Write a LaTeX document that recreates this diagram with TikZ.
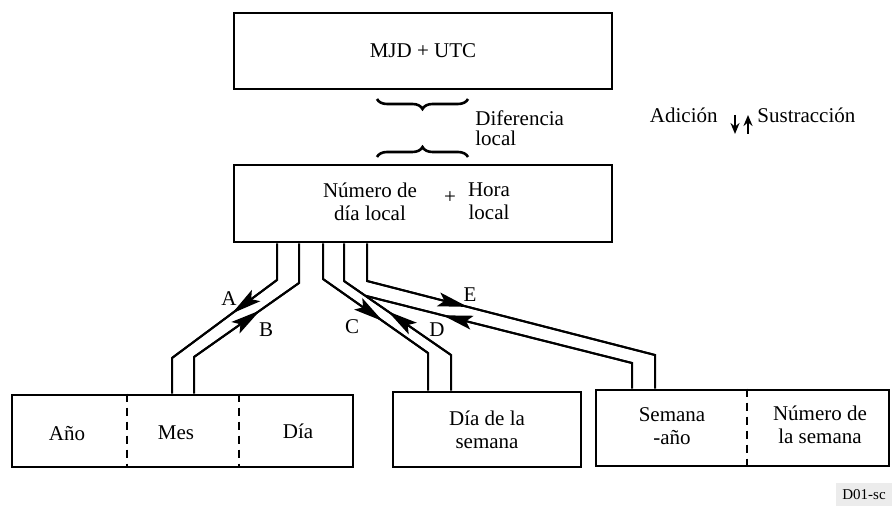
\documentclass[tikz,border=0pt]{standalone}
\usepackage{fontspec}
\setmainfont{Liberation Serif}
\usetikzlibrary{calc, arrows.meta, decorations.markings, decorations.pathreplacing}

\begin{document}
\begin{tikzpicture}[x=0.5pt, y=-0.5pt, >={Stealth[length=15pt, width=7pt, inset=3pt]},
    font=\fontsize{10.5}{11.5}\selectfont,
    box/.style={draw, line width=1.3pt, inner sep=0pt, align=center},
    wire/.style={line width=1pt},
    sep/.style={line width=1.2pt, dash pattern=on 4pt off 3pt},
    brc/.style={line width=1.3pt, decorate, decoration={brace, amplitude=5pt}},
    midarrow/.style={decoration={markings, mark=at position #1 with {\arrow{>}}}, postaction={decorate}}]
  \useasboundingbox (0,0) rectangle (892,506);

  % boxes
  \node[box, minimum width=189pt, minimum height=38pt] (mjd) at (423,51) {MJD + UTC};
  \node[box, minimum width=189pt, minimum height=38.5pt] (local) at (423,203.5) {};
  \node[align=center] (ndl) at (370,201.5) {Número de\\día local};
  \node (plus) at (450,198) {+};
  \node[align=center] (hl) at (489,201.5) {Hora\\local};

  \node[box, minimum width=170.5pt, minimum height=36pt] (fecha) at (182.5,431) {};
  \node[anchor=base] (ano) at (67,441) {Año};
  \node[anchor=base] (mes) at (176,440) {Mes};
  \node[anchor=base] (dia) at (298,439) {Día};
  \draw[sep] (127,0 |- fecha.north) -- (127,0 |- fecha.south);
  \draw[sep] (239,0 |- fecha.north) -- (239,0 |- fecha.south);

  \node[box, minimum width=94pt, minimum height=37.5pt] (dds) at (487,429.5) {Día de la\\semana};
  \node[box, minimum width=146.5pt, minimum height=38pt] (sem) at (742.5,428) {};
  \node[align=center] (sa) at (672,426) {Semana\\-año};
  \node[align=center] (nds) at (820,424.5) {Número de\\la semana};
  \draw[sep] (747,0 |- sem.north) -- (747,0 |- sem.south);

  % local difference
  \coordinate (u1) at (468,99);
  \coordinate (u2) at (377,99);
  \coordinate (v1) at (377,157);
  \coordinate (v2) at (468,157);
  \draw[brc] (u1) -- (u2);
  \draw[brc] (v1) -- (v2);
  \node[anchor=west, align=left, inner sep=0pt, font=\fontsize{10.5}{10}\selectfont] (dif) at (475,128) {Diferencia\\local};

  \node[anchor=base east, inner sep=0pt] (adi) at (718,123) {Adición};
  \node[anchor=base west, inner sep=0pt] (sus) at (757,123) {Sustracción};
  \coordinate (s1) at (735,115);
  \coordinate (s2) at (735,134);
  \coordinate (t1) at (748,134);
  \coordinate (t2) at (748,115);
  \draw[wire, line width=1.2pt, -{Stealth[length=5.5pt, width=4.5pt]}] (s1) -- (s2);
  \draw[wire, line width=1.2pt, -{Stealth[length=5.5pt, width=4.5pt]}] (t1) -- (t2);

  % channels
  \coordinate (a1) at (277,280);
  \coordinate (a2) at (172,358);
  \coordinate (b1) at (299,283);
  \coordinate (b2) at (194,357);
  \coordinate (c1) at (323,279);
  \coordinate (c2) at (428,353);
  \coordinate (d1) at (344,281);
  \coordinate (d2) at (451,355);
  \coordinate (e1) at (367,281);
  \coordinate (e2) at (655,355);
  \coordinate (f1) at ($(d1)!0.2!(d2)$);
  \coordinate (f2) at (632,363);
  \draw[wire] (local.south -| a1) -- (a1) -- (a2) -- (a2 |- fecha.north);
  \draw[wire] (local.south -| b1) -- (b1) -- (b2) -- (b2 |- fecha.north);
  \draw[wire] (local.south -| c1) -- (c1) -- (c2) -- (c2 |- dds.north);
  \draw[wire] (local.south -| d1) -- (d1) -- (d2) -- (d2 |- dds.north);
  \draw[wire] (local.south -| e1) -- (e1) -- (e2) -- (e2 |- sem.north);
  \draw[wire] (f1) -- (f2) -- (f2 |- sem.north);

  \draw[wire, midarrow=0.43] (a1) -- (a2);
  \draw[wire, midarrow=0.63] (b2) -- (b1);
  \draw[wire, midarrow=0.57] (c1) -- (c2);
  \draw[wire, midarrow=0.59] (d2) -- (d1);
  \draw[wire, midarrow=0.35] (e1) -- (e2);
  \draw[wire, midarrow=0.71] (f2) -- (f1);
  \node (la) at (229,299) {A};
  \node (lb) at (266,330) {B};
  \node (lc) at (352,327) {C};
  \node (ld) at (437,330) {D};
  \node (le) at (470,295) {E};

  \node[fill=gray!15, minimum width=28pt, minimum height=11pt, font=\fontsize{7.5}{9}\selectfont] (ref) at (864,495) {D01-sc};
\end{tikzpicture}
\end{document}
